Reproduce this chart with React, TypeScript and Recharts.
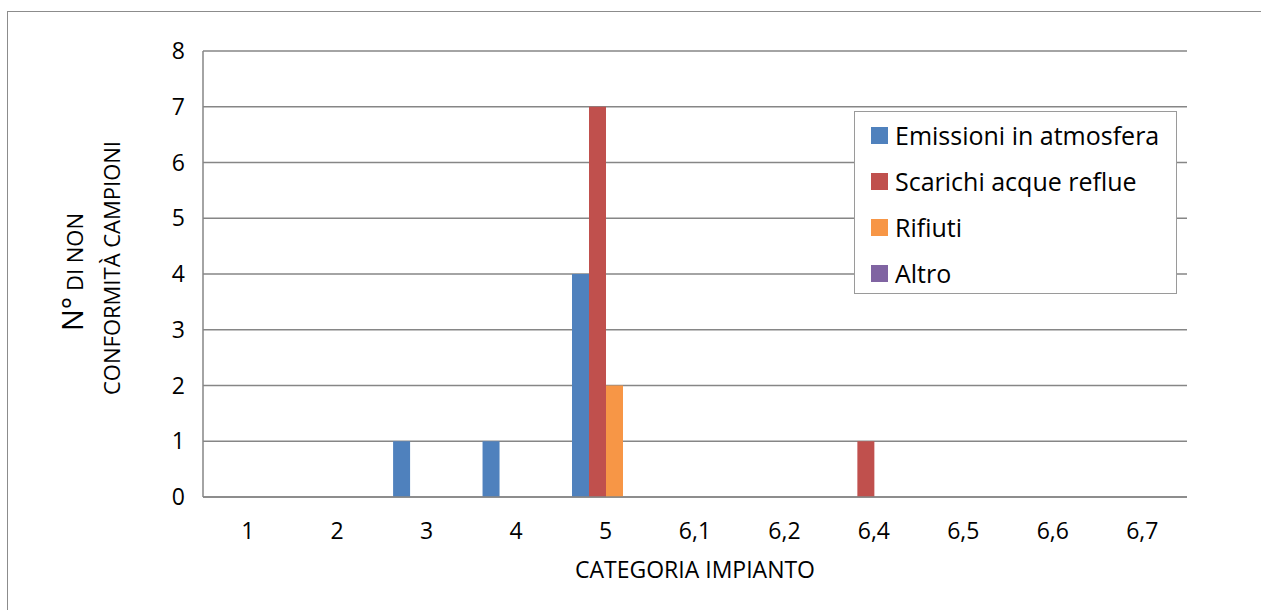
import React from 'react';
import { BarChart, Bar, XAxis, YAxis, CartesianGrid } from 'recharts';

const categories = ['1', '2', '3', '4', '5', '6,1', '6,2', '6,4', '6,5', '6,6', '6,7'];
const emissioni = [0, 0, 1, 1, 4, 0, 0, 0, 0, 0, 0];
const scarichi = [0, 0, 0, 0, 7, 0, 0, 1, 0, 0, 0];
const rifiuti = [0, 0, 0, 0, 2, 0, 0, 0, 0, 0, 0];
const altro = [0, 0, 0, 0, 0, 0, 0, 0, 0, 0, 0];
const yTicks = [0, 1, 2, 3, 4, 5, 6, 7, 8];

const SERIES = [
  { key: 'emissioni', name: 'Emissioni in atmosfera', color: '#4F81BD' },
  { key: 'scarichi', name: 'Scarichi acque reflue', color: '#C0504D' },
  { key: 'rifiuti', name: 'Rifiuti', color: '#F79646' },
  { key: 'altro', name: 'Altro', color: '#8064A2' },
];

const data = categories.map((cat, i) => ({
  cat,
  emissioni: emissioni[i],
  scarichi: scarichi[i],
  rifiuti: rifiuti[i],
  altro: altro[i],
}));

const FONT = '"Open Sans", "Noto Sans", sans-serif';
const GRID = '#868686';

// legend box sits over the plot, top right
const LegendBox = () => (
  <div
    style={{
      position: 'absolute',
      left: 854,
      top: 111,
      border: '1px solid #9a9a9a',
      background: '#fff',
      width: 323,
      height: 183,
      boxSizing: 'border-box',
      paddingTop: 0,
      paddingLeft: 16,
      fontFamily: FONT,
    }}
  >
    {SERIES.map((s) => (
      <div key={s.key} style={{ display: 'flex', alignItems: 'center', height: 46 }}>
        <div style={{ width: 17, height: 17, background: s.color, marginRight: 7, flexShrink: 0 }} />
        <span style={{ fontSize: 25, color: '#000', lineHeight: '26px', whiteSpace: 'nowrap' }}>{s.name}</span>
      </div>
    ))}
  </div>
);

const YTitle = () => (
  <g fontFamily={FONT} fill="#000">
    <text transform="translate(83,272) rotate(-90)" textAnchor="middle">
      <tspan fontSize={29}>N°</tspan>
      <tspan fontSize={22}> DI NON</tspan>
    </text>
    <text transform="translate(120,268) rotate(-90)" textAnchor="middle" fontSize={22}>
      CONFORMITÀ CAMPIONI
    </text>
  </g>
);

const XTitle = () => (
  <text x={695} y={578} textAnchor="middle" fontFamily={FONT} fontSize={23} fill="#000">
    CATEGORIA IMPIANTO
  </text>
);

export default function App() {
  return (
    <div style={{ position: 'fixed', left: 0, top: 0, width: 1261, height: 610, overflow: 'hidden', background: '#fff' }}>
      <div
        style={{
          position: 'absolute',
          left: 7,
          top: 11,
          width: 1400,
          height: 800,
          border: '1.5px solid #8c8c8c',
        }}
      />
      <div style={{ position: 'absolute', left: 0, top: 0 }}>
        <BarChart
          width={1261}
          height={610}
          data={data}
          margin={{ top: 51, right: 74, left: 143, bottom: 83 }}
          barCategoryGap="12.5%"
          barGap={0}
        >
          <CartesianGrid vertical={false} stroke={GRID} strokeWidth={1.5} />
          <XAxis
            dataKey="cat"
            height={30}
            axisLine={{ stroke: GRID, strokeWidth: 1.5 }}
            tickLine={false}
            tickSize={0}
            tickMargin={26}
            tick={{ fill: '#000', fontSize: 23, fontFamily: FONT }}
            interval={0}
            label={{ content: () => <XTitle /> }}
          />
          <YAxis
            width={60}
            domain={[0, 8]}
            ticks={yTicks}
            interval={0}
            axisLine={{ stroke: GRID, strokeWidth: 1.5 }}
            tickLine={false}
            tickSize={0}
            tickMargin={18}
            tick={{ fill: '#000', fontSize: 23, fontFamily: FONT }}
            label={{ content: () => <YTitle /> }}
          />
          {SERIES.map((s) => (
            <Bar key={s.key} dataKey={s.key} name={s.name} fill={s.color} isAnimationActive={false} />
          ))}
        </BarChart>
      </div>
      <LegendBox />
    </div>
  );
}
